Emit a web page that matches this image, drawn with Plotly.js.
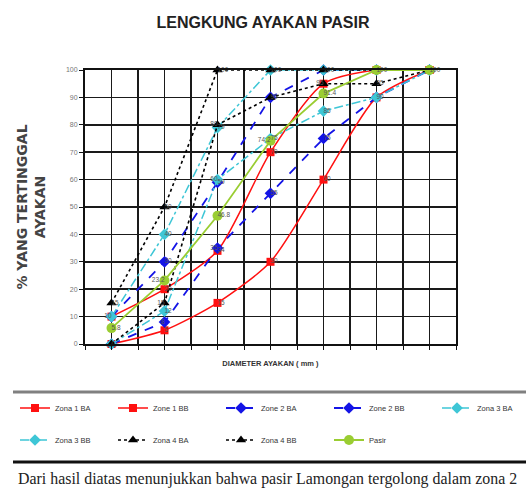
<!DOCTYPE html>
<html><head><meta charset="utf-8">
<script src="https://cdn.plot.ly/plotly-3.0.1.min.js"></script>
<style>html,body{margin:0;padding:0;background:#fff;} #chart{width:526px;height:493px;}</style>
</head><body><div id="chart"></div>
<script>
// Sieve sizes (mm), one category per position on the x axis
const sieveSizes = [0.15, 0.3, 0.6, 1.2, 2.4, 4.8, 10];
// Percent passing (% yang tertinggal ayakan)
const zona1BA = [10, 20, 34, 70, 95, 100, 100];
const zona1BB = [0, 5, 15, 30, 60, 90, 100];
const zona2BA = [10, 30, 59, 90, 100, 100, 100];
const zona2BB = [0, 8, 35, 55, 75, 90, 100];
const zona3BA = [10, 40, 79, 100, 100, 100, 100];
const zona3BB = [0, 12, 60, 75, 85, 90, 100];
const zona4BA = [15, 50, 100, 100, 100, 100, 100];
const zona4BB = [0, 15, 80, 90, 95, 95, 100];
const pasir = [5.8, 23.2, 46.8, 74.2, 91.4, 100, 100];
const seriesNames = ['Zona 1 BA', 'Zone 1 BB', 'Zone 2 BA', 'Zone 2 BB', 'Zona 3 BA', 'Zona 3 BB', 'Zona 4 BA', 'Zona 4 BB', 'Pasir'];
const yTickVals = [0, 10, 20, 30, 40, 50, 60, 70, 80, 90, 100];
const titleText = 'LENGKUNG AYAKAN PASIR';
const yTitleText = '% YANG TERTINGGAL<br>AYAKAN';
const xTitleText = 'DIAMETER AYAKAN ( mm )';
const captionText = 'Dari hasil diatas menunjukkan bahwa pasir Lamongan tergolong dalam zona 2';

const xPos = sieveSizes.map((s, i) => i + 0.5);
const seriesData = [zona1BA, zona1BB, zona2BA, zona2BB, zona3BA, zona3BB, zona4BA, zona4BB, pasir];

const RED = '#ff1010', BLUE = '#1414e6', CYAN = '#3ec6d6', BLACK = '#000000', GREEN = '#9acd32';
const styles = [
  {color: RED, dash: 'solid', symbol: 'square', size: 8, width: 1.5, shape: 'spline'},
  {color: RED, dash: 'solid', symbol: 'square', size: 8, width: 1.5, shape: 'spline'},
  {color: BLUE, dash: 'dash', symbol: 'diamond', size: 9, width: 1.8, shape: 'linear'},
  {color: BLUE, dash: 'dash', symbol: 'diamond', size: 9, width: 1.8, shape: 'linear'},
  {color: CYAN, dash: 'dashdot', symbol: 'diamond', size: 9, width: 1.5, shape: 'linear'},
  {color: CYAN, dash: 'dashdot', symbol: 'diamond', size: 9, width: 1.5, shape: 'linear'},
  {color: BLACK, dash: 'dot', symbol: 'triangle-up', size: 9, width: 1.6, shape: 'linear'},
  {color: BLACK, dash: 'dot', symbol: 'triangle-up', size: 9, width: 1.6, shape: 'linear'},
  {color: GREEN, dash: 'solid', symbol: 'circle', size: 10, width: 1.8, shape: 'linear'}
];

// plot-area geometry helpers (pixels -> paper)
const L = 85, R = 456, T = 70, B = 344, W = 526, H = 493;
const px = v => (v - L) / (R - L);
const py = v => (B - v) / (B - T);

const legendCols = [15, 113, 221, 329, 437];
const legendRows = [408, 440];

const traces = [];
const layoutLegends = {};
seriesData.forEach((vals, i) => {
  const st = styles[i];
  const legKey = i === 0 ? 'legend' : 'legend' + (i + 1);
  traces.push({
    type: 'scatter', mode: 'lines+markers', name: seriesNames[i],
    x: xPos, y: vals, legend: legKey, cliponaxis: false,
    line: {color: st.color, dash: st.dash, width: st.width, shape: st.shape, smoothing: 0.7},
    marker: {symbol: st.symbol, size: st.size, color: st.color}
  });
  const col = i % 5, row = Math.floor(i / 5);
  layoutLegends[legKey] = {
    x: px(legendCols[col]), y: py(legendRows[row]), xanchor: 'left', yanchor: 'middle',
    orientation: 'h', bgcolor: 'rgba(0,0,0,0)', borderwidth: 0,
    font: {family: 'Liberation Sans, Arial, sans-serif', size: 7.5, color: '#333'}
  };
});

// value labels: drop exact duplicates at a point, alternate sides for near-coincident ones
const labelText = seriesData.map(vals => vals.map(v => String(v)));
const labelPos = seriesData.map(vals => vals.map(() => 'middle right'));
xPos.forEach((_, j) => {
  const pts = seriesData.map((vals, i) => ({i, v: vals[j]})).sort((a, b) => a.v - b.v);
  const kept = [];
  pts.forEach(p => {
    if (kept.length && kept[kept.length - 1].v === p.v) { labelText[p.i][j] = ''; }
    else kept.push(p);
  });
  for (let k = 1; k < kept.length; k++) {
    if (kept[k].v - kept[k - 1].v < 5) {
      const prev = labelPos[kept[k - 1].i][j];
      labelPos[kept[k].i][j] = prev === 'middle right' ? 'middle left' : 'middle right';
    }
  }
});
seriesData.forEach((vals, i) => {
  traces.push({
    type: 'scatter', mode: 'text', showlegend: false, hoverinfo: 'skip',
    x: xPos, y: vals, text: labelText[i], textposition: labelPos[i],
    cliponaxis: false,
    textfont: {family: 'Liberation Sans, Arial, sans-serif', size: 6.5, color: '#555'}
  });
});

const layout = Object.assign({
  width: W, height: H,
  margin: {l: L, r: W - R, t: T, b: H - B, autoexpand: false},
  paper_bgcolor: '#fff', plot_bgcolor: '#fff',
  font: {family: 'Liberation Sans, Arial, sans-serif', color: '#333'},
  title: {text: titleText, x: 0.5, xanchor: 'center', y: 1 - 22 / H, yanchor: 'middle', yref: 'container',
    font: {family: 'Liberation Sans, Arial, sans-serif', size: 16, weight: 'bold', color: '#222'}},
  xaxis: {
    range: [0, sieveSizes.length], tick0: 0, dtick: 0.5, showticklabels: false,
    ticks: 'outside', ticklen: 4, tickcolor: '#111', tickwidth: 1,
    showgrid: true, gridcolor: '#1a1a1a', gridwidth: 1.5, zeroline: false,
    showline: true, linecolor: '#111', linewidth: 2, mirror: true,
    title: {text: xTitleText, standoff: 12, font: {size: 7.5, weight: 'bold', color: '#333'}}
  },
  yaxis: {
    range: [0, 100], tickvals: yTickVals, ticktext: yTickVals.map(String),
    ticks: 'outside', ticklen: 4, tickcolor: '#111', tickwidth: 1,
    tickfont: {size: 7, color: '#777'},
    showgrid: true, gridcolor: '#1a1a1a', gridwidth: 1.5, zeroline: false,
    showline: true, linecolor: '#111', linewidth: 2, mirror: true,
    title: {text: yTitleText, standoff: 17, font: {family: 'DejaVu Sans, sans-serif', size: 14, weight: 'bold', color: '#444'}}
  },
  shapes: [
    {type: 'line', xref: 'paper', yref: 'paper', x0: px(13), x1: px(526), y0: py(392), y1: py(392),
      line: {color: '#808080', width: 3}},
    {type: 'line', xref: 'paper', yref: 'paper', x0: px(13), x1: px(526), y0: py(462), y1: py(462),
      line: {color: '#111', width: 3}}
  ],
  annotations: [
    {text: captionText, xref: 'paper', yref: 'paper', x: px(16), y: py(479), xanchor: 'left', yanchor: 'middle',
      showarrow: false, font: {family: 'Liberation Serif, Times New Roman, serif', size: 15.9, color: '#222'}}
  ]
}, layoutLegends);

Plotly.newPlot('chart', traces, layout, {displayModeBar: false, staticPlot: true});
</script>
</body></html>
